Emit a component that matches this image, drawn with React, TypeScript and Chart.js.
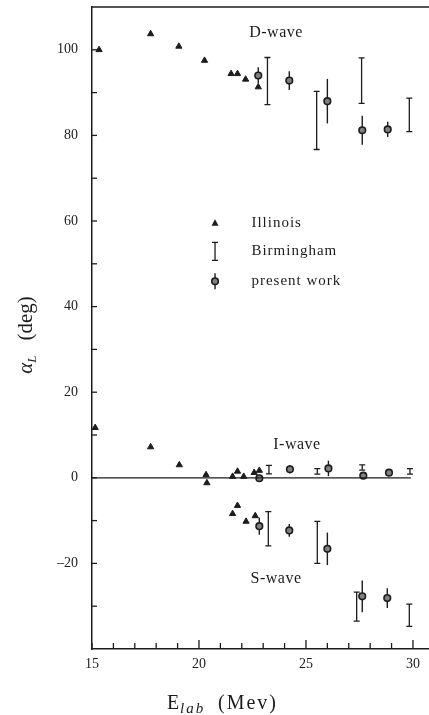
import React, { useEffect, useRef } from "react";
import { Chart, registerables } from "chart.js";
Chart.register(...registerables);

// Illinois (triangles)
const illinoisDE = [15.33, 17.74, 19.06, 20.26, 21.5, 21.8, 22.18, 22.77];
const illinoisDA = [100.0, 103.7, 100.8, 97.5, 94.4, 94.4, 93.1, 91.3];
const illinoisIE = [15.15, 17.74, 19.08, 20.33, 20.37, 21.57, 21.8, 22.09, 22.58, 22.82];
const illinoisIA = [11.7, 7.2, 3.0, 0.7, -1.2, 0.3, 1.5, 0.3, 1.2, 1.7];
const illinoisSE = [21.57, 21.8, 22.2, 22.63];
const illinoisSA = [-8.4, -6.5, -10.2, -8.9];

// present work (circles with error bars)
const presentE = [22.77, 24.22, 26.0, 27.63, 28.82, 22.82, 24.25, 26.05, 27.68, 28.88, 22.82, 24.22, 26.0, 27.63, 28.8];
const presentA = [94.0, 92.8, 88.0, 81.2, 81.4, -0.1, 2.0, 2.2, 0.5, 1.2, -11.3, -12.3, -16.6, -27.7, -28.1];
const presentErr = [1.9, 2.2, 5.2, 3.4, 1.8, 0.8, 1.0, 1.8, 0.5, 0.7, 2.0, 1.5, 3.8, 3.7, 2.3];

// Birmingham (capped bars)
const birmE = [23.2, 25.5, 27.6, 29.83, 23.27, 25.53, 27.63, 29.86, 23.24, 25.53, 27.37, 29.83];
const birmA = [92.7, 83.5, 92.8, 84.8, 1.9, 1.5, 2.4, 1.5, -11.9, -15.1, -30.1, -32.1];
const birmErr = [5.5, 6.8, 5.3, 3.9, 1.0, 0.65, 0.6, 0.65, 4.0, 4.9, 3.4, 2.6];

// I-wave zero line
const zeroLineE = [15, 29.9];
const zeroLineA = [0, 0];

const xTickLabels = [15, 20, 25, 30];
const yTickLabels = [-20, 0, 20, 40, 60, 80, 100];
const xMinorTicks = [15, 16, 17, 18, 19, 20, 21, 22, 23, 24, 25, 26, 27, 28, 29, 30];
const yMinorTicks = [-30, -20, -10, 0, 10, 20, 30, 40, 50, 60, 70, 80, 90, 100];

const waveLabels = ["D-wave", "I-wave", "S-wave"];
const waveLabelE = [23.6, 24.58, 23.6];
const waveLabelA = [104.0, 7.7, -23.6];

const legendLabels = ["Illinois", "Birmingham", "present work"];
const legendMarkerE = 20.75;
const legendTextE = 22.45;
const legendA = [59.5, 52.9, 45.9];

const INK = "#1c1c1c";
const SERIF = "'Liberation Serif', 'DejaVu Serif', serif";

const pts = (xs: number[], ys: number[]) => xs.map((x, i) => ({ x, y: ys[i] }));

export default function App() {
  const ref = useRef<HTMLCanvasElement | null>(null);
  useEffect(() => {
    if (!ref.current) return;

    const drawTriangle = (ctx: CanvasRenderingContext2D, x: number, y: number, r: number) => {
      ctx.beginPath();
      ctx.moveTo(x, y - r * 1.1);
      ctx.lineTo(x + r, y + r * 0.75);
      ctx.lineTo(x - r, y + r * 0.75);
      ctx.closePath();
      ctx.fillStyle = INK;
      ctx.fill();
    };
    const drawCircle = (ctx: CanvasRenderingContext2D, x: number, y: number) => {
      ctx.beginPath();
      ctx.arc(x, y, 3.3, 0, Math.PI * 2);
      ctx.fillStyle = "#808080";
      ctx.fill();
      ctx.lineWidth = 1.6;
      ctx.strokeStyle = INK;
      ctx.stroke();
    };

    const errorPlugin = {
      id: "errorBars",
      beforeDatasetsDraw(chart: any) {
        const { ctx, scales } = chart;
        const xs = scales.x, ys = scales.y;
        ctx.save();
        ctx.strokeStyle = INK;
        ctx.lineWidth = 1.4;
        presentE.forEach((e, i) => {
          const px = xs.getPixelForValue(e);
          const y1 = ys.getPixelForValue(presentA[i] + presentErr[i]);
          const y2 = ys.getPixelForValue(presentA[i] - presentErr[i]);
          ctx.beginPath();
          ctx.moveTo(px, y1);
          ctx.lineTo(px, y2);
          ctx.stroke();
        });
        ctx.lineWidth = 1.3;
        birmE.forEach((e, i) => {
          const px = xs.getPixelForValue(e);
          const y1 = ys.getPixelForValue(birmA[i] + birmErr[i]);
          const y2 = ys.getPixelForValue(birmA[i] - birmErr[i]);
          ctx.beginPath();
          ctx.moveTo(px, y1);
          ctx.lineTo(px, y2);
          ctx.moveTo(px - 3, y1);
          ctx.lineTo(px + 3, y1);
          ctx.moveTo(px - 3, y2);
          ctx.lineTo(px + 3, y2);
          ctx.stroke();
        });
        ctx.restore();
      },
    };

    const decoPlugin = {
      id: "deco",
      afterDraw(chart: any) {
        const { ctx, scales, chartArea } = chart;
        const xs = scales.x, ys = scales.y;
        ctx.save();
        ctx.strokeStyle = INK;
        ctx.lineWidth = 1.3;
        ctx.beginPath();
        ctx.moveTo(chartArea.left, chartArea.top);
        ctx.lineTo(chartArea.right, chartArea.top);
        ctx.stroke();
        xMinorTicks.forEach((v) => {
          const px = xs.getPixelForValue(v);
          const len = v % 5 === 0 && v !== 15 ? 9 : 6;
          ctx.beginPath();
          ctx.moveTo(px, chartArea.bottom);
          ctx.lineTo(px, chartArea.bottom - len);
          ctx.stroke();
        });
        yMinorTicks.forEach((v) => {
          const py = ys.getPixelForValue(v);
          ctx.beginPath();
          ctx.moveTo(chartArea.left, py);
          ctx.lineTo(chartArea.left + 5, py);
          ctx.stroke();
        });

        // wave labels
        ctx.fillStyle = INK;
        ctx.font = `16px ${SERIF}`;
        (ctx as any).letterSpacing = "0.5px";
        ctx.textAlign = "center";
        ctx.textBaseline = "middle";
        waveLabels.forEach((t, i) => {
          ctx.fillText(t, xs.getPixelForValue(waveLabelE[i]), ys.getPixelForValue(waveLabelA[i]));
        });

        // legend
        const mx = xs.getPixelForValue(legendMarkerE);
        const tx = xs.getPixelForValue(legendTextE);
        const ly = legendA.map((a) => ys.getPixelForValue(a));
        drawTriangle(ctx, mx, ly[0], 3.5);
        ctx.lineWidth = 1.3;
        ctx.beginPath();
        ctx.moveTo(mx, ly[1] - 9);
        ctx.lineTo(mx, ly[1] + 9);
        ctx.moveTo(mx - 3, ly[1] - 9);
        ctx.lineTo(mx + 3, ly[1] - 9);
        ctx.moveTo(mx - 3, ly[1] + 9);
        ctx.lineTo(mx + 3, ly[1] + 9);
        ctx.stroke();
        ctx.lineWidth = 1.4;
        ctx.beginPath();
        ctx.moveTo(mx, ly[2] - 8);
        ctx.lineTo(mx, ly[2] + 8);
        ctx.stroke();
        drawCircle(ctx, mx, ly[2]);
        ctx.fillStyle = INK;
        ctx.font = `15px ${SERIF}`;
        (ctx as any).letterSpacing = "1px";
        ctx.textAlign = "left";
        ctx.textBaseline = "middle";
        legendLabels.forEach((t, i) => ctx.fillText(t, tx, ly[i]));

        // y axis title: α_L (deg)
        (ctx as any).letterSpacing = "0px";
        ctx.save();
        ctx.translate(32, 335);
        ctx.rotate(-Math.PI / 2);
        ctx.textBaseline = "alphabetic";
        ctx.textAlign = "left";
        const fA = `italic 21px ${SERIF}`;
        const fL = `italic 13px ${SERIF}`;
        const fD = `21px ${SERIF}`;
        ctx.font = fA; const wA = ctx.measureText("α").width;
        ctx.font = fL; const wL = ctx.measureText("L").width;
        ctx.font = fD; const wD = ctx.measureText("(deg)").width;
        const gap = 15;
        let x0 = -(wA + wL + gap + wD) / 2;
        ctx.font = fA; ctx.fillText("α", x0, 0); x0 += wA;
        ctx.font = fL; ctx.fillText("L", x0, 4); x0 += wL + gap;
        ctx.font = fD; ctx.fillText("(deg)", x0, 0);
        ctx.restore();

        // x axis title: E_lab (Mev)
        ctx.textAlign = "left";
        ctx.textBaseline = "alphabetic";
        const by = 709;
        ctx.font = `20px ${SERIF}`;
        (ctx as any).letterSpacing = "0px";
        ctx.fillText("E", 167, by);
        ctx.font = `italic 15px ${SERIF}`;
        (ctx as any).letterSpacing = "2px";
        ctx.fillText("lab", 180, by + 4);
        ctx.font = `20px ${SERIF}`;
        (ctx as any).letterSpacing = "2px";
        ctx.fillText("(Mev)", 218, by);
        (ctx as any).letterSpacing = "0px";
        ctx.restore();
      },
    };

    const tri = {
      pointStyle: "triangle",
      pointRadius: 3.6,
      backgroundColor: INK,
      borderColor: INK,
      borderWidth: 1,
      clip: false,
    };

    const chart = new Chart(ref.current, {
      type: "scatter",
      data: {
        datasets: [
          {
            type: "line",
            data: pts(zeroLineE, zeroLineA),
            borderColor: INK,
            borderWidth: 1.2,
            pointRadius: 0,
            fill: false,
          } as any,
          { data: pts(birmE, birmA), pointRadius: 0, showLine: false },
          {
            data: pts(presentE, presentA),
            pointStyle: "circle",
            pointRadius: 3.3,
            backgroundColor: "#808080",
            borderColor: INK,
            borderWidth: 1.6,
          },
          { data: pts(illinoisDE, illinoisDA), ...tri } as any,
          { data: pts(illinoisIE, illinoisIA), ...tri } as any,
          { data: pts(illinoisSE, illinoisSA), ...tri } as any,
        ],
      },
      options: {
        responsive: false,
        animation: false,
        devicePixelRatio: 1,
        layout: { autoPadding: false, padding: { top: 7, right: 0, left: 0, bottom: 0 } },
        plugins: { legend: { display: false }, tooltip: { enabled: false } },
        scales: {
          x: {
            type: "linear",
            min: 15,
            max: 30.75,
            grid: { display: false, drawTicks: false },
            border: { display: true, color: INK, width: 1.5 },
            ticks: {
              color: INK,
              font: { family: SERIF, size: 14 },
              padding: 7,
              autoSkip: false,
              maxRotation: 0,
            },
            afterBuildTicks: (s: any) => {
              s.ticks = xTickLabels.map((v) => ({ value: v }));
            },
            afterFit: (s: any) => {
              s.height = 66;
              s.paddingLeft = 0;
              s.paddingRight = 0;
            },
          },
          y: {
            type: "linear",
            min: -40,
            max: 110,
            grid: { display: false, drawTicks: false },
            border: { display: true, color: INK, width: 1.5 },
            ticks: {
              color: INK,
              font: { family: SERIF, size: 14 },
              padding: 14,
              callback: (v: any) => (Number(v) < 0 ? "\u2013" + Math.abs(Number(v)) : String(v)),
            },
            afterBuildTicks: (s: any) => {
              s.ticks = yTickLabels.map((v) => ({ value: v }));
            },
            afterFit: (s: any) => {
              s.width = 92;
              s.paddingTop = 0;
              s.paddingBottom = 0;
            },
          },
        },
      },
      plugins: [errorPlugin, decoPlugin],
    });
    return () => chart.destroy();
  }, []);

  return (
    <div style={{ position: "fixed", left: 0, top: 0, width: 429, height: 715, background: "#fff" }}>
      <canvas ref={ref} width={429} height={715} style={{ display: "block" }} />
    </div>
  );
}
